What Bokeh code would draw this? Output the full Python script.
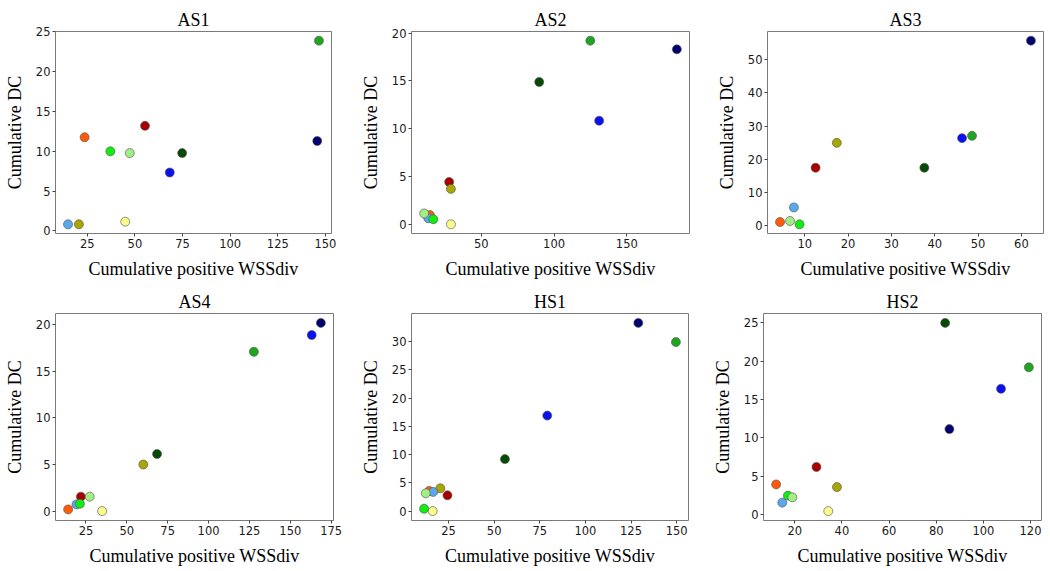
import numpy as np
from bokeh.plotting import figure
from bokeh.layouts import column, row
from bokeh.models import Range1d, FixedTicker, ColumnDataSource
from bokeh.embed import file_html
from bokeh.resources import INLINE

nan = float("nan")

# drawing order of the 11 point groups (unlabeled in the chart)
groups = ["orange", "darkred", "olive", "lightyellow", "lightblue", "lime",
          "lightgreen", "darkgreen", "green", "blue", "navy"]
colors = ["#ff5a0a", "#a80000", "#aaa600", "#fbfb8c", "#5aa8ee", "#10ee10",
          "#a2ee82", "#064a06", "#1fa51f", "#0a10ee", "#00006e"]

AS1_x = [23.6, 55.3, 20.6, 44.9, 14.9, 37.1, 47.3, 74.8, 146.6, 68.3, 145.7]
AS1_y = [11.77, 13.2, 0.83, 1.16, 0.83, 10.0, 9.78, 9.78, 23.9, 7.34, 11.3]

AS2_x = [14.7, 27.9, 29.1, 29.1, 13.5, 17.0, 10.7, 89.8, 124.9, 131.0, 184.4]
AS2_y = [1.03, 4.48, 3.76, 0.07, 0.7, 0.6, 1.2, 14.9, 19.2, 10.86, 18.3]

AS3_x = [4.3, 12.5, 17.4, nan, 7.5, 8.8, 6.6, 37.6, 48.6, 46.3, 62.2]
AS3_y = [1.19, 17.5, 25.0, nan, 5.57, 0.5, 1.5, 17.5, 27.1, 26.4, 55.7]

AS4_x = [14.1, 21.9, 60.1, 34.9, 19.2, 21.3, 27.3, 68.5, 127.7, 163.1, 168.7]
AS4_y = [0.18, 1.55, 5.0, 0.0, 0.72, 0.79, 1.55, 6.13, 17.1, 18.9, 20.2]

HS1_x = [14.4, 24.4, 20.5, 16.3, 16.6, 11.6, 12.5, 55.9, 149.6, 79.1, 129.0]
HS1_y = [3.57, 2.79, 4.04, 0.0, 3.39, 0.42, 3.15, 9.2, 29.9, 16.9, 33.3]

HS2_x = [12.1, 29.2, 37.9, 34.2, 14.7, 17.1, 19.0, 83.8, 119.3, 107.5, 85.6]
HS2_y = [3.92, 6.2, 3.57, 0.44, 1.54, 2.46, 2.24, 25.0, 19.2, 16.4, 11.14]

AS1_xticks = [25, 50, 75, 100, 125, 150]
AS1_yticks = [0, 5, 10, 15, 20, 25]
AS2_xticks = [50, 100, 150]
AS2_yticks = [0, 5, 10, 15, 20]
AS3_xticks = [10, 20, 30, 40, 50, 60]
AS3_yticks = [0, 10, 20, 30, 40, 50]
AS4_xticks = [25, 50, 75, 100, 125, 150, 175]
AS4_yticks = [0, 5, 10, 15, 20]
HS1_xticks = [25, 50, 75, 100, 125, 150]
HS1_yticks = [0, 5, 10, 15, 20, 25, 30]
HS2_xticks = [20, 40, 60, 80, 100, 120]
HS2_yticks = [0, 5, 10, 15, 20, 25]

titles = ["AS1", "AS2", "AS3", "AS4", "HS1", "HS2"]
x_label = "Cumulative positive WSSdiv"
y_label = "Cumulative DC"

SERIF = "Liberation Serif"
SANS = "DejaVu Sans"


def padded(vals):
    a = np.array(vals, dtype=float)
    lo, hi = np.nanmin(a), np.nanmax(a)
    m = (hi - lo) * 0.05
    return Range1d(lo - m, hi + m)


def make(title, xs, ys, xticks, yticks, w, h, l, r, t, b):
    p = figure(width=w, height=h, output_backend="svg", toolbar_location=None,
               x_range=padded(xs), y_range=padded(ys),
               min_border_left=l, min_border_right=r,
               min_border_top=t, min_border_bottom=b)
    p.title.text = title
    p.title.text_font = SERIF
    p.title.text_font_size = "18px"
    p.title.text_font_style = "normal"
    p.title.text_color = "black"
    p.title.align = "center"
    p.title.standoff = 3
    p.grid.visible = False
    p.outline_line_color = "#7a7a7a"
    p.outline_line_width = 1
    p.background_fill_color = "white"
    p.border_fill_color = "white"

    p.xaxis.ticker = FixedTicker(ticks=xticks)
    p.yaxis.ticker = FixedTicker(ticks=yticks)
    for ax in (p.xaxis, p.yaxis):
        ax.axis_line_color = None
        ax.major_tick_in = 0
        ax.major_tick_out = 3
        ax.major_tick_line_color = "#444444"
        ax.minor_tick_line_color = None
        ax.major_label_text_font = SANS
        ax.major_label_text_font_size = "11.5px"
        ax.major_label_text_color = "#1a1a1a"
        ax.major_label_standoff = 2
        ax.axis_label_text_font = SERIF
        ax.axis_label_text_font_size = "18px"
        ax.axis_label_text_font_style = "normal"
        ax.axis_label_text_color = "black"
    p.xaxis.axis_label = x_label
    p.yaxis.axis_label = y_label
    p.xaxis.axis_label_standoff = 8
    p.yaxis.axis_label_standoff = 8

    src = ColumnDataSource(dict(x=xs, y=ys, c=colors, g=groups))
    p.scatter(x="x", y="y", source=src, size=9, fill_color="c",
              line_color="#555555", line_width=0.7, line_alpha=0.9)
    return p


# page origin is (0, 0); frames placed to match the reference
r1 = row(
    make(titles[0], AS1_x, AS1_y, AS1_xticks, AS1_yticks, 356, 283, 55, 25, 28, 50),
    make(titles[1], AS2_x, AS2_y, AS2_xticks, AS2_yticks, 356, 283, 55, 23, 31, 49),
    make(titles[2], AS3_x, AS3_y, AS3_xticks, AS3_yticks, 336, 283, 55, 5, 28, 49),
)
r2 = row(
    make(titles[3], AS4_x, AS4_y, AS4_xticks, AS4_yticks, 356, 286, 55, 23, 30, 49),
    make(titles[4], HS1_x, HS1_y, HS1_xticks, HS1_yticks, 352, 286, 55, 20, 30, 49),
    make(titles[5], HS2_x, HS2_y, HS2_xticks, HS2_yticks, 340, 286, 55, 7, 30, 49),
)
layout = column(r1, r2)

open("out.html", "w").write(file_html(layout, INLINE))
